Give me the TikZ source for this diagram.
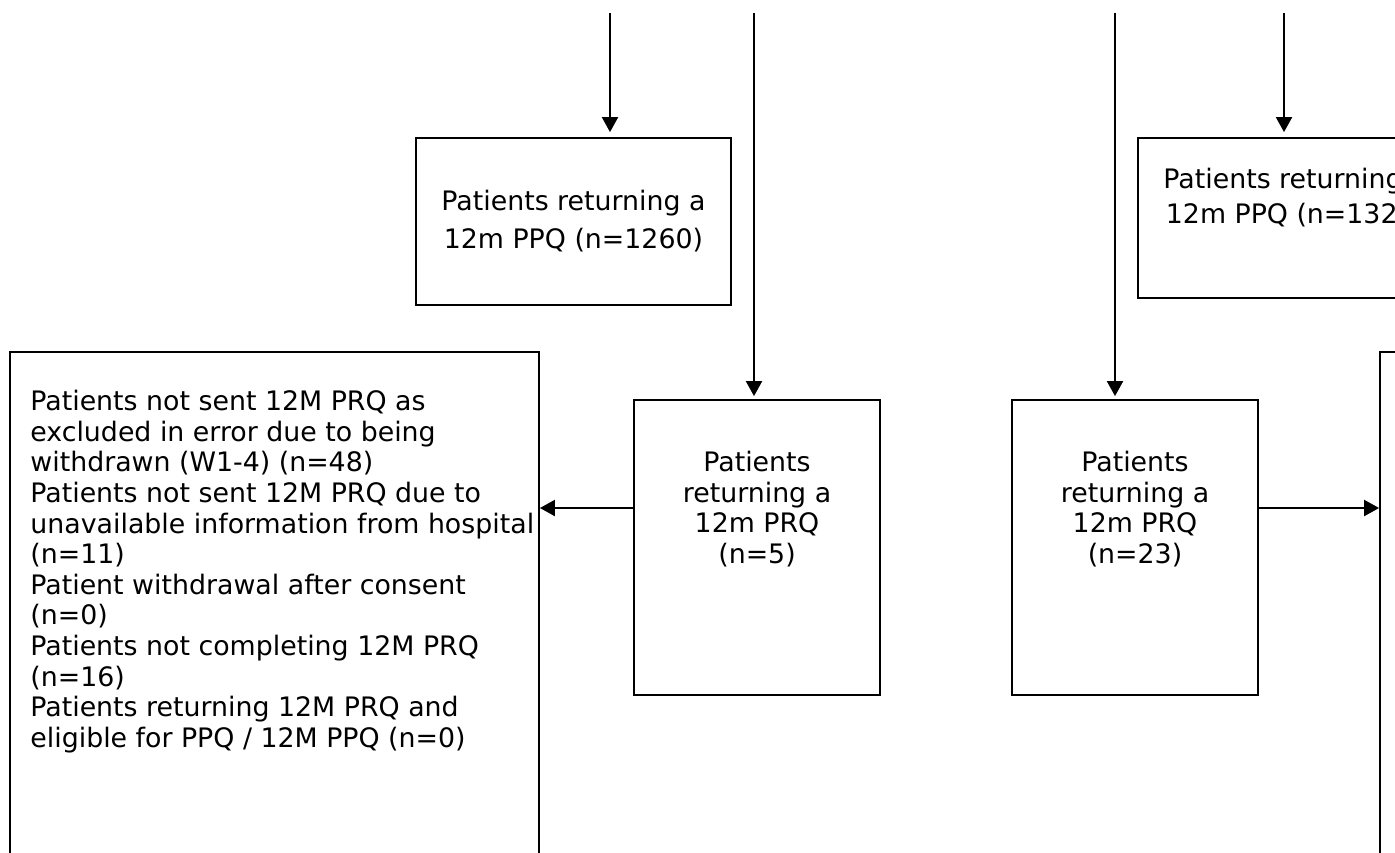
\documentclass[tikz,border=0pt]{standalone}
\usepackage{fontspec}
\setmainfont{DejaVu Sans}
\usetikzlibrary{arrows.meta,positioning,calc}
\newcommand{\flowfont}{\fontsize{13.4}{15.3}\selectfont}
\newcommand{\flowfontwide}{\fontsize{13.4}{19}\selectfont}

\begin{document}
\begin{tikzpicture}[x=0.5pt,y=-0.5pt,
    flowbox/.style={draw,line width=0.9pt,inner sep=0pt},
    flowtext/.style={inner sep=0pt,align=center,font=\flowfont},
    flowarrow/.style={line width=1pt,-{Triangle[length=7.5pt,width=8pt]}}]
      \useasboundingbox (0,0) rectangle (1395,852);
      \clip (0,0) rectangle (1395,852);

      % boxes
      \node[flowbox,minimum width=157.5pt,minimum height=83.5pt] (boxA) at (573.5,221.5) {};
      \node[flowbox,minimum width=157.5pt,minimum height=80pt] (boxE) at (1295.5,218) {};
      \node[flowbox,minimum width=123pt,minimum height=147.5pt] (boxB) at (757,547.5) {};
      \node[flowbox,minimum width=123pt,minimum height=147.5pt] (boxD) at (1135,547.5) {};
      \node[flowbox,minimum width=264.5pt,minimum height=274pt] (boxC) at (274.5,626) {};
      \node[flowbox,minimum width=160pt,minimum height=274pt] (boxF) at (1540,626) {};

      % texts
      \node[flowtext,font=\flowfontwide,anchor=north] (txtA) at (573.5,190) {Patients returning a\\12m PPQ (n=1260)};
      \node[flowtext,anchor=north] (txtE) at (1295.5,168) {Patients returning a\\[2pt]12m PPQ (n=132\phantom{0)}};
      \node[flowtext,anchor=north] (txtB) at (757,451) {Patients\\returning a\\12m PRQ\\(n=5)};
      \node[flowtext,anchor=north] (txtD) at (1135,451) {Patients\\returning a\\12m PRQ\\(n=23)};
      \node[flowtext,align=left,anchor=north west] (txtC) at (30,390) {Patients not sent 12M PRQ as\\
        excluded in error due to being\\
        withdrawn (W1-4) (n=48)\\
        Patients not sent 12M PRQ due to\\
        unavailable information from hospital\\
        (n=11)\\
        Patient withdrawal after consent\\
        (n=0)\\
        Patients not completing 12M PRQ\\
        (n=16)\\
        Patients returning 12M PRQ and\\
        eligible for PPQ / 12M PPQ (n=0)};

      % connectors
      \foreach \xa/\tgt/\gap in {610/boxA/2.5pt,754/boxB/1.5pt,1115/boxD/1.5pt,1284/boxE/2.5pt}{
        \coordinate (top\tgt) at (\xa,13);
        \draw[flowarrow,shorten >=\gap] (top\tgt) -- (top\tgt |- \tgt.north);
      }
      \coordinate (side) at (0,508);
      \draw[flowarrow] (boxB.west |- side) -- (boxC.east |- side);
      \draw[flowarrow] (boxD.east |- side) -- (boxF.west |- side);
    \end{tikzpicture}
\end{document}
